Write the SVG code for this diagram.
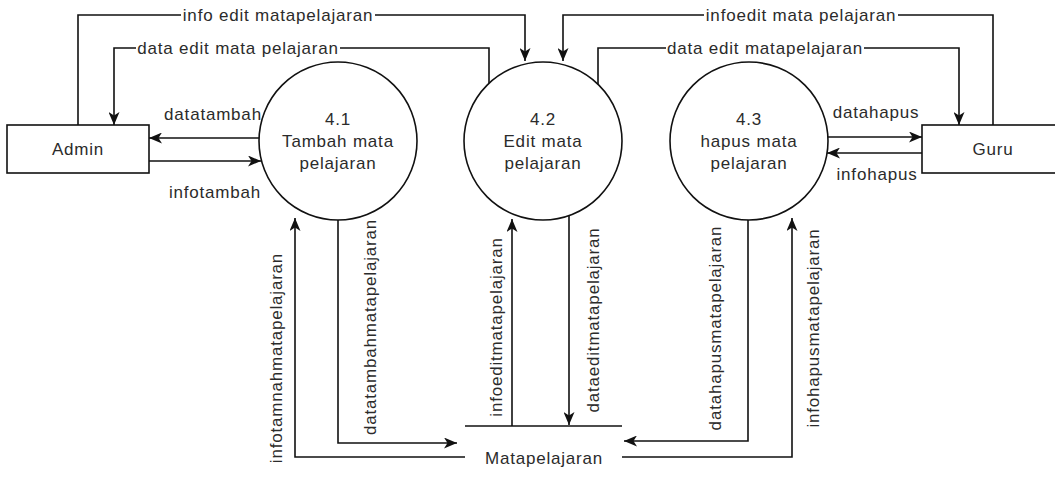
<svg xmlns="http://www.w3.org/2000/svg" width="1055" height="486" viewBox="0 0 1055 486">
<style>
  .t { font-family: "Liberation Sans", Arial, Helvetica, sans-serif; font-size: 17px; letter-spacing: 0.8px; fill: #2b2b2b; }
  .m { text-anchor: middle; }
  .shape { fill: #fff; stroke: #111; stroke-width: 1.6; }
  .edge { fill: none; stroke: #111; stroke-width: 1.6; }
  .bg { fill: #fff; }
</style>
<defs>
  <marker id="arr" markerUnits="userSpaceOnUse" markerWidth="13" markerHeight="11" refX="13" refY="5.5" orient="auto">
    <path d="M0,0 L13,5.5 L0,11 L3.5,5.5 z" fill="#111"/>
  </marker>
</defs>
<rect width="1055" height="486" fill="#fff"/>

<g id="connectors">
  <path class="edge" d="M78,125 V15 H525 V61" marker-end="url(#arr)"/>
  <path class="edge" d="M489,83 V48 H114 V125" marker-end="url(#arr)"/>
  <path class="edge" d="M259,138 H149" marker-end="url(#arr)"/>
  <path class="edge" d="M149,161 H261" marker-end="url(#arr)"/>
  <path class="edge" d="M993,125 V15 H563 V61" marker-end="url(#arr)"/>
  <path class="edge" d="M598,84 V48 H959 V125" marker-end="url(#arr)"/>
  <path class="edge" d="M828,137 H922" marker-end="url(#arr)"/>
  <path class="edge" d="M922,153 H827" marker-end="url(#arr)"/>
  <path class="edge" d="M465,457 H295 V218" marker-end="url(#arr)"/>
  <path class="edge" d="M338,220 V443 H457" marker-end="url(#arr)"/>
  <path class="edge" d="M512,426 V219" marker-end="url(#arr)"/>
  <path class="edge" d="M569,216 V425" marker-end="url(#arr)"/>
  <path class="edge" d="M748,220 V441 H624" marker-end="url(#arr)"/>
  <path class="edge" d="M622,457 H792 V218" marker-end="url(#arr)"/>

  <rect class="bg" x="181" y="6" width="194" height="18"/>
  <text class="t m" x="278" y="21">info edit matapelajaran</text>
  <rect class="bg" x="136" y="39" width="204" height="18"/>
  <text class="t m" x="238" y="54">data edit mata pelajaran</text>
  <rect class="bg" x="704" y="6" width="194" height="18"/>
  <text class="t m" x="801" y="21">infoedit mata pelajaran</text>
  <rect class="bg" x="666" y="39" width="198" height="18"/>
  <text class="t m" x="765" y="54">data edit matapelajaran</text>

  <text class="t m" x="213" y="120">datatambah</text>
  <text class="t m" x="215" y="198">infotambah</text>
  <text class="t m" x="876" y="118">datahapus</text>
  <text class="t m" x="877" y="180">infohapus</text>

  <text class="t m" transform="translate(278,358) rotate(-90)" y="4">infotamnahmatapelajaran</text>
  <text class="t m" transform="translate(372,327) rotate(-90)" y="4">datatambahmatapelajaran</text>
  <text class="t m" transform="translate(498,327) rotate(-90)" y="4">infoeditmatapelajaran</text>
  <text class="t m" transform="translate(595,320) rotate(-90)" y="4">dataeditmatapelajaran</text>
  <text class="t m" transform="translate(717,328) rotate(-90)" y="4">datahapusmatapelajaran</text>
  <text class="t m" transform="translate(815,328) rotate(-90)" y="4">infohapusmatapelajaran</text>
</g>

<g id="admin">
  <rect class="shape" x="7" y="125" width="142" height="48"/>
  <text class="t m" x="78" y="155">Admin</text>
</g>

<g id="guru">
  <rect class="shape" x="922" y="125" width="142" height="48"/>
  <text class="t m" x="993" y="155">Guru</text>
</g>

<g id="p41">
  <circle class="shape" cx="338" cy="141" r="79"/>
  <text class="t m" x="338" y="125">4.1</text>
  <text class="t m" x="338" y="147">Tambah mata</text>
  <text class="t m" x="338" y="169">pelajaran</text>
</g>

<g id="p42">
  <circle class="shape" cx="543" cy="141" r="79"/>
  <text class="t m" x="543" y="125">4.2</text>
  <text class="t m" x="543" y="147">Edit mata</text>
  <text class="t m" x="543" y="169">pelajaran</text>
</g>

<g id="p43">
  <circle class="shape" cx="749" cy="141" r="79"/>
  <text class="t m" x="749" y="125">4.3</text>
  <text class="t m" x="749" y="147">hapus mata</text>
  <text class="t m" x="749" y="169">pelajaran</text>
</g>

<g id="matapelajaran">
  <line class="edge" x1="465" y1="426" x2="622" y2="426"/>
  <text class="t m" x="544" y="464">Matapelajaran</text>
</g>
</svg>
